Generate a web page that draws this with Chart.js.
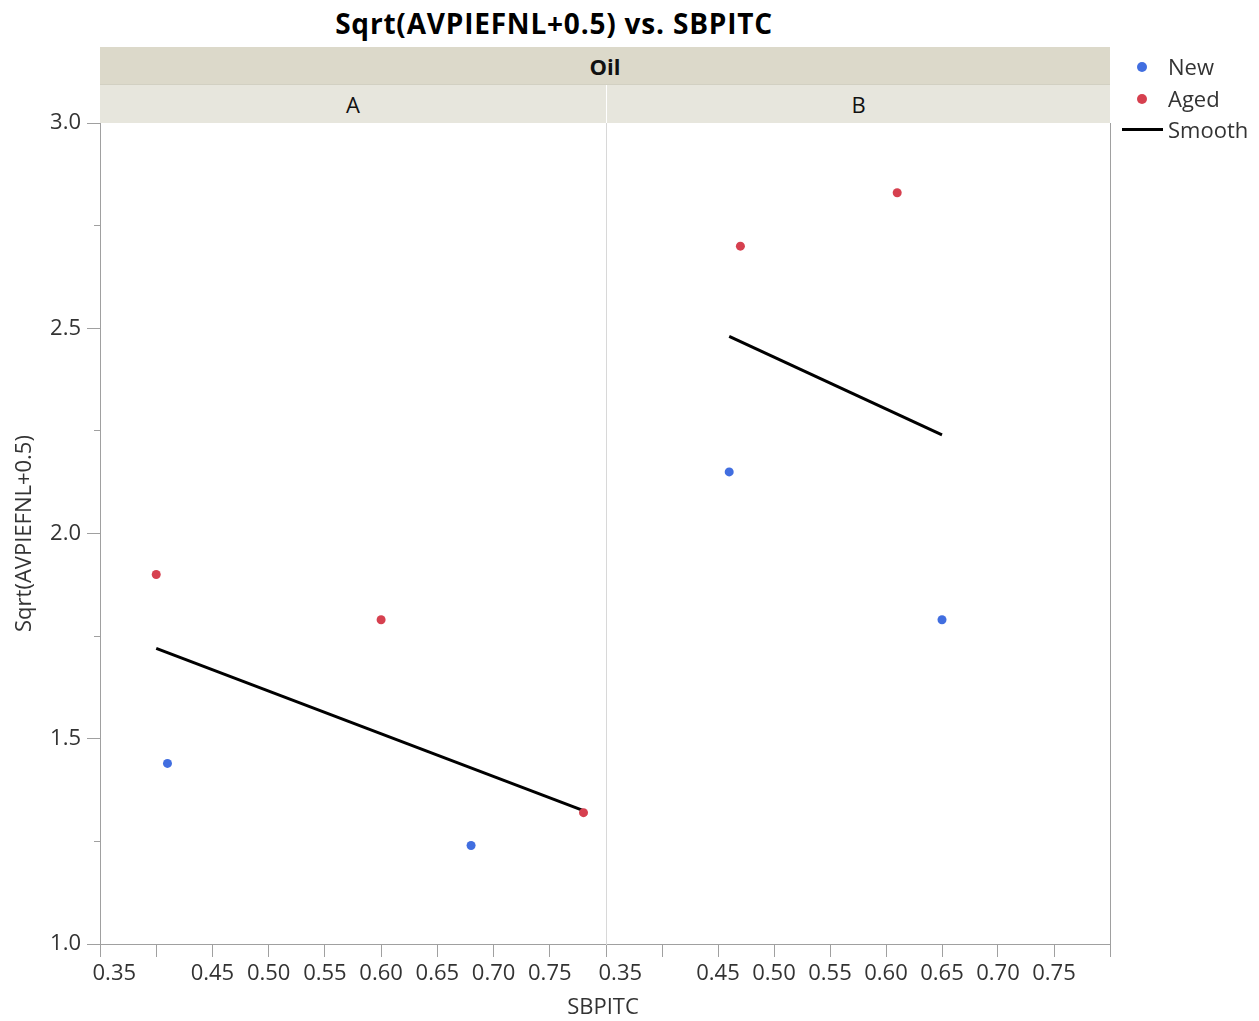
<!DOCTYPE html>
<html><head><meta charset="utf-8">
<script src="https://cdn.jsdelivr.net/npm/chart.js@4.4.1/dist/chart.umd.min.js"></script>
<style>
html,body{margin:0;padding:0;background:#fff;width:1259px;height:1021px;overflow:hidden;font-family:"Open Sans",sans-serif;}
canvas{position:absolute;left:0;top:0;}
#title{position:absolute;left:0;top:0;width:1108px;height:46px;line-height:46px;text-align:center;font-weight:bold;font-size:28px;letter-spacing:0.8px;color:#000;}
.band{position:absolute;box-sizing:border-box;display:flex;align-items:center;justify-content:center;color:#111;font-size:22px;}
#oil{left:100px;top:47px;width:1010px;height:38px;background:#dcd9ca;font-weight:bold;border-bottom:1px solid #d2d0c2;}
#hA{left:100px;top:85px;width:506px;height:38px;background:#e7e6dd;}
#hB{left:607px;top:85px;width:503px;height:38px;background:#e7e6dd;}
#xtitle{position:absolute;left:503px;width:200px;top:990px;text-align:center;font-size:22px;color:#333;}
#legend{position:absolute;left:1118px;top:51px;font-size:22px;color:#333;}
.li{position:relative;height:31.5px;line-height:31px;padding-left:50px;}
.dot{position:absolute;left:19px;top:11px;width:10px;height:10px;border-radius:50%;}
.ln{position:absolute;left:4px;top:14px;width:41px;height:3px;background:#000;}
</style></head><body>
<div id="title">Sqrt(AVPIEFNL+0.5) vs. SBPITC</div>
<div class="band" id="oil">Oil</div>
<div class="band" id="hA">A</div>
<div class="band" id="hB">B</div>
<canvas id="cA" width="1259" height="1021"></canvas>
<canvas id="cB" width="1259" height="1021"></canvas>
<div id="xtitle">SBPITC</div>
<div id="legend">
  <div class="li"><span class="dot" style="background:#416ee0"></span>New</div>
  <div class="li"><span class="dot" style="background:#d6404f"></span>Aged</div>
  <div class="li"><span class="ln"></span>Smooth</div>
</div>
<script>
// ---- data ----
const panels = ['A', 'B'];
const seriesNames = ['New', 'Aged', 'Smooth'];

const newA_x = [0.41, 0.68];
const newA_y = [1.44, 1.24];
const agedA_x = [0.40, 0.60, 0.78];
const agedA_y = [1.90, 1.79, 1.32];
const smoothA_x = [0.40, 0.78];
const smoothA_y = [1.72, 1.325];

const newB_x = [0.46, 0.65];
const newB_y = [2.15, 1.79];
const agedB_x = [0.47, 0.61];
const agedB_y = [2.70, 2.83];
const smoothB_x = [0.46, 0.65];
const smoothB_y = [2.48, 2.24];

const xTickValues = [0.35, 0.40, 0.45, 0.50, 0.55, 0.60, 0.65, 0.70, 0.75, 0.80];
const xTickLabels = ['     0.35', '', '0.45', '0.50', '0.55', '0.60', '0.65', '0.70', '0.75', ''];
const yMajorValues = [1.0, 1.5, 2.0, 2.5, 3.0];
const yMajorLabels = ['1.0', '1.5', '2.0', '2.5', '3.0'];
const yMinorValues = [1.25, 1.75, 2.25, 2.75];

// ---- styling ----
const BLUE = '#416ee0', RED = '#d6404f';
const AXIS = '#a0a0a0', DIV = '#d8d8d8', TXT = '#333';
const FONT = {family: '"Open Sans", sans-serif', size: 22};

function pts(xs, ys) { return xs.map((x, i) => ({x: x, y: ys[i]})); }

function makeDatasets(nx, ny, ax, ay, sx, sy) {
  return [
    {label: seriesNames[0], data: pts(nx, ny), backgroundColor: BLUE, borderColor: BLUE, pointRadius: 4.5, pointBorderWidth: 0, showLine: false},
    {label: seriesNames[1], data: pts(ax, ay), backgroundColor: RED, borderColor: RED, pointRadius: 4.5, pointBorderWidth: 0, showLine: false},
    {label: seriesNames[2], data: pts(sx, sy), borderColor: '#000', backgroundColor: '#000', borderWidth: 3, pointRadius: 0, showLine: true, fill: false}
  ];
}

function xAxis() {
  return {
    type: 'linear', min: 0.35, max: 0.80,
    afterBuildTicks: s => { s.ticks = xTickValues.map(v => ({value: v})); },
    ticks: {callback: (v, i) => xTickLabels[i], font: FONT, color: TXT, padding: 4, maxRotation: 0, autoSkip: false},
    grid: {drawOnChartArea: false, tickLength: 13, color: AXIS},
    border: {color: AXIS},
    afterFit: s => { s.height = 77; }
  };
}

const common = {
  animation: false, responsive: false, devicePixelRatio: 1,
  plugins: {legend: {display: false}, tooltip: {enabled: false}}
};

new Chart(document.getElementById('cA'), {
  type: 'scatter',
  data: {datasets: makeDatasets(newA_x, newA_y, agedA_x, agedA_y, smoothA_x, smoothA_y)},
  options: Object.assign({}, common, {
    layout: {padding: {left: 0, top: 123, right: 653, bottom: 0}},
    scales: {
      x: xAxis(),
      y: {
        type: 'linear', min: 1, max: 3, position: 'left', weight: 1,
        afterBuildTicks: s => { s.ticks = yMajorValues.map(v => ({value: v})); },
        ticks: {callback: (v, i) => yMajorLabels[i], font: FONT, color: TXT, padding: 6},
        grid: {drawOnChartArea: false, tickLength: 13, color: AXIS},
        border: {color: AXIS},
        title: {display: true, text: 'Sqrt(AVPIEFNL+0.5)', font: FONT, color: TXT, padding: {top: 12, bottom: 0}},
        afterFit: s => { s.width = 100; }
      },
      yMinor: {
        type: 'linear', min: 1, max: 3, position: 'left', weight: 0, display: true,
        afterBuildTicks: s => { s.ticks = yMinorValues.map(v => ({value: v})); },
        ticks: {display: false},
        grid: {drawOnChartArea: false, tickLength: 6, color: AXIS},
        border: {display: false},
        afterFit: s => { s.width = 0; }
      }
    }
  })
});

new Chart(document.getElementById('cB'), {
  type: 'scatter',
  data: {datasets: makeDatasets(newB_x, newB_y, agedB_x, agedB_y, smoothB_x, smoothB_y)},
  options: Object.assign({}, common, {
    layout: {padding: {left: 606, top: 123, right: 149, bottom: 0}},
    scales: {
      x: xAxis(),
      y: {
        type: 'linear', min: 1, max: 3, display: true,
        ticks: {display: false}, grid: {display: false},
        border: {color: DIV},
        afterFit: s => { s.width = 0; }
      },
      y2: {
        type: 'linear', position: 'right', min: 1, max: 3, display: true,
        ticks: {display: false}, grid: {display: false},
        border: {color: AXIS},
        afterFit: s => { s.width = 0; }
      }
    }
  })
});
</script>
</body></html>
